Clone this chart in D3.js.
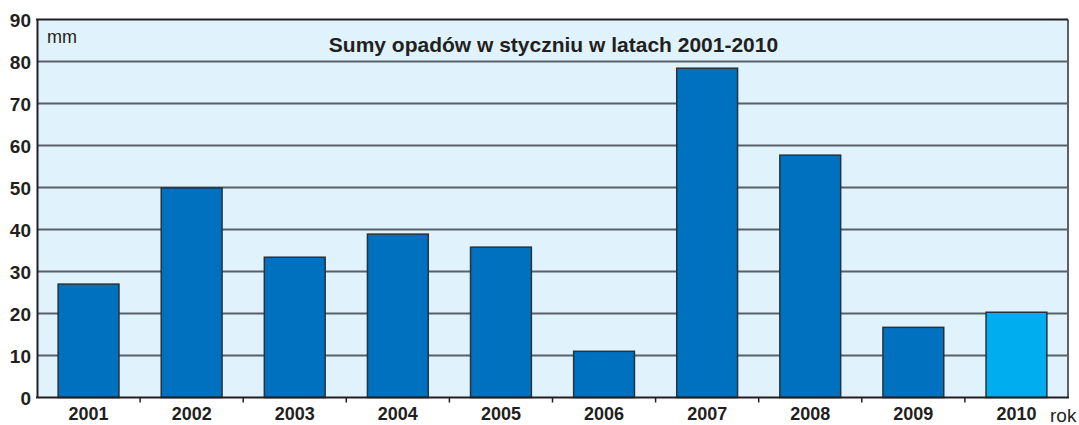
<!DOCTYPE html>
<html>
<head>
<meta charset="utf-8">
<script src="https://cdn.jsdelivr.net/npm/d3@7"></script>
<style>
  body { margin: 0; background: #fff; }
  svg text { font-family: "Liberation Sans", Arial, sans-serif; fill: #231f20; }
</style>
</head>
<body>
<div id="chart"></div>
<script>
// data
var years = ['2001', '2002', '2003', '2004', '2005', '2006', '2007', '2008', '2009', '2010']
var rainfall = [27.0, 49.9, 33.4, 38.9, 35.8, 11.0, 78.4, 57.7, 16.7, 20.3]
var yTicks = [0, 10, 20, 30, 40, 50, 60, 70, 80, 90]
var chartTitle = 'Sumy opadów w styczniu w latach 2001-2010'

var dataset = years.map(function(y, i) { return { 'year': y, 'value': rainfall[i] } })

var config = {
    'width': 1079,
    'height': 425,
    'padding': { 'top': 19.5, 'right': 11, 'bottom': 27.5, 'left': 37 }
}

var svg = d3.select('#chart').append('svg')
    .attr('width', config.width)
    .attr('height', config.height)

var xScale = d3.scaleBand()
    .domain(years)
    .range([config.padding.left, config.width - config.padding.right])
    .paddingInner(0.41)
    .paddingOuter(0.205)

var yScale = d3.scaleLinear()
    .domain([0, 90])
    .range([config.height - config.padding.bottom, config.padding.top])

var x0 = config.padding.left
var x1 = config.width - config.padding.right
var y0 = yScale(0)
var y1 = yScale(90)

// plot background
svg.append('rect')
    .attr('x', x0)
    .attr('y', y1)
    .attr('width', x1 - x0)
    .attr('height', y0 - y1)
    .style('fill', '#e0f2fc')

// gridlines
svg.append('g')
    .selectAll('line')
    .data(yTicks.filter(function(d) { return d > 0 && d < 90 }))
    .enter()
    .append('line')
    .attr('x1', x0)
    .attr('x2', x1)
    .attr('y1', d => yScale(d))
    .attr('y2', d => yScale(d))
    .style('stroke', '#5b6068')
    .style('stroke-width', 2)

// right border
svg.append('line')
    .attr('x1', x1).attr('x2', x1)
    .attr('y1', y1).attr('y2', y0)
    .style('stroke', '#5b6068')
    .style('stroke-width', 2)

// bars
svg.append('g')
    .selectAll('rect')
    .data(dataset)
    .enter()
    .append('rect')
    .attr('x', d => xScale(d.year))
    .attr('y', d => yScale(d.value))
    .attr('width', xScale.bandwidth())
    .attr('height', d => y0 - yScale(d.value))
    .style('fill', d => d.year === '2010' ? '#00aeef' : '#0071bf')
    .style('stroke', '#26323c')
    .style('stroke-width', 1.5)

// top frame line
svg.append('line')
    .attr('x1', x0 - 1).attr('x2', x1)
    .attr('y1', y1).attr('y2', y1)
    .style('stroke', '#231f20')
    .style('stroke-width', 2)

// y axis
var yAxis = svg.append('g')
    .attr('transform', 'translate(' + x0 + ',0)')
    .call(d3.axisLeft(yScale).tickValues(yTicks).tickSize(0).tickPadding(6))
yAxis.select('.domain').style('stroke', '#231f20').style('stroke-width', 2)
yAxis.selectAll('.tick text')
    .style('font-size', '19px')
    .style('font-weight', 'bold')
    .attr('dy', '0.36em')

// x axis with small ticks between categories
var xAxis = svg.append('g')
    .attr('transform', 'translate(0,' + y0 + ')')
    .call(d3.axisBottom(xScale).tickSize(0).tickPadding(10))
xAxis.select('.domain').remove()
xAxis.append('line')
    .attr('x1', x0 - 1).attr('x2', x1 + 1)
    .attr('y1', 0).attr('y2', 0)
    .style('stroke', '#231f20')
    .style('stroke-width', 2)
xAxis.selectAll('.tick text')
    .style('font-size', '18px')
    .style('font-weight', 'bold')

xAxis.selectAll('.sep')
    .data(years.slice(1))
    .enter()
    .append('line')
    .attr('x1', d => xScale(d) - xScale.step() * xScale.paddingInner() / 2)
    .attr('x2', d => xScale(d) - xScale.step() * xScale.paddingInner() / 2)
    .attr('y1', 0)
    .attr('y2', 5)
    .style('stroke', '#231f20')
    .style('stroke-width', 1.5)

// labels
svg.append('text')
    .attr('x', (x0 + x1) / 2 + 1)
    .attr('y', 52)
    .attr('text-anchor', 'middle')
    .style('font-size', '21px')
    .style('font-weight', 'bold')
    .text(chartTitle)

svg.append('text')
    .attr('x', 47)
    .attr('y', 43)
    .style('font-size', '18px')
    .text('mm')

svg.append('text')
    .attr('x', 1050)
    .attr('y', 422)
    .style('font-size', '19px')
    .text('rok')
</script>
</body>
</html>
